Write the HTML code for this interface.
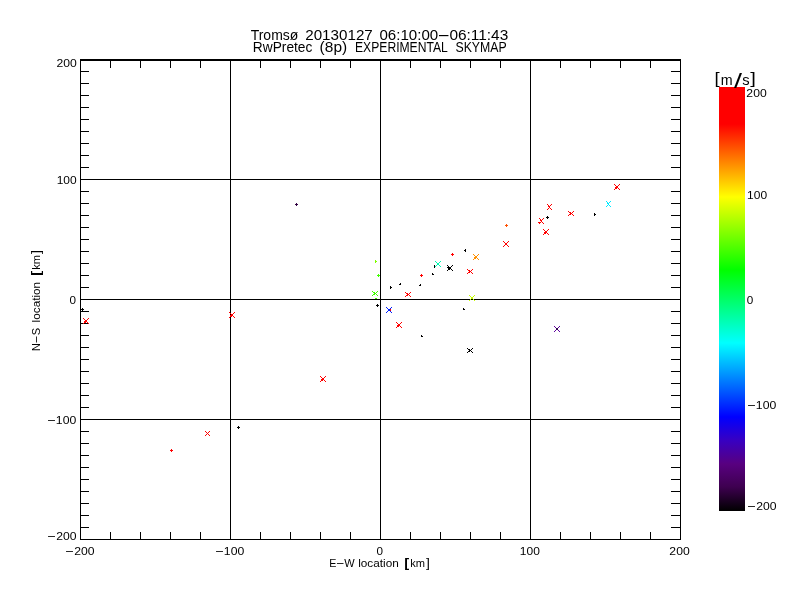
<!DOCTYPE html>
<html lang="en"><head><meta charset="utf-8"><title>Tromsø 20130127 06:10:00-06:11:43 RwPretec (8p) EXPERIMENTAL SKYMAP</title>
<style>html,body{margin:0;padding:0;background:#fff;}body{width:800px;height:600px;overflow:hidden;}svg{display:block;}text{font-family:"Liberation Sans",sans-serif;fill:#000;}</style></head><body>
<svg width="800" height="600" viewBox="0 0 800 600">
<rect width="800" height="600" fill="#fff"/>
<defs><linearGradient id="cb" x1="0" y1="0" x2="0" y2="1">
<stop offset="0.0000" stop-color="rgb(255,0,0)"/>
<stop offset="0.0873" stop-color="rgb(255,0,0)"/>
<stop offset="0.2594" stop-color="rgb(255,255,0)"/>
<stop offset="0.4316" stop-color="rgb(0,255,0)"/>
<stop offset="0.6038" stop-color="rgb(0,255,255)"/>
<stop offset="0.7783" stop-color="rgb(0,0,255)"/>
<stop offset="0.8325" stop-color="rgb(55,0,195)"/>
<stop offset="0.8890" stop-color="rgb(88,0,128)"/>
<stop offset="0.9430" stop-color="rgb(62,0,80)"/>
<stop offset="1.0000" stop-color="rgb(0,0,0)"/>
</linearGradient></defs>
<g fill="#000" shape-rendering="crispEdges">
<rect x="80" y="59" width="601" height="2"/>
<rect x="80" y="539" width="601" height="1"/>
<rect x="80" y="59" width="1" height="481"/>
<rect x="680" y="59" width="1" height="481"/>
<rect x="230" y="59" width="1" height="481"/>
<rect x="380" y="59" width="1" height="481"/>
<rect x="530" y="59" width="1" height="481"/>
<rect x="80" y="179" width="601" height="1"/>
<rect x="80" y="299" width="601" height="1"/>
<rect x="80" y="419" width="601" height="1"/>
<rect x="110" y="60" width="1" height="8"/>
<rect x="110" y="532" width="1" height="8"/>
<rect x="140" y="60" width="1" height="8"/>
<rect x="140" y="532" width="1" height="8"/>
<rect x="170" y="60" width="1" height="8"/>
<rect x="170" y="532" width="1" height="8"/>
<rect x="200" y="60" width="1" height="8"/>
<rect x="200" y="532" width="1" height="8"/>
<rect x="260" y="60" width="1" height="8"/>
<rect x="260" y="532" width="1" height="8"/>
<rect x="290" y="60" width="1" height="8"/>
<rect x="290" y="532" width="1" height="8"/>
<rect x="320" y="60" width="1" height="8"/>
<rect x="320" y="532" width="1" height="8"/>
<rect x="350" y="60" width="1" height="8"/>
<rect x="350" y="532" width="1" height="8"/>
<rect x="410" y="60" width="1" height="8"/>
<rect x="410" y="532" width="1" height="8"/>
<rect x="440" y="60" width="1" height="8"/>
<rect x="440" y="532" width="1" height="8"/>
<rect x="470" y="60" width="1" height="8"/>
<rect x="470" y="532" width="1" height="8"/>
<rect x="500" y="60" width="1" height="8"/>
<rect x="500" y="532" width="1" height="8"/>
<rect x="560" y="60" width="1" height="8"/>
<rect x="560" y="532" width="1" height="8"/>
<rect x="590" y="60" width="1" height="8"/>
<rect x="590" y="532" width="1" height="8"/>
<rect x="620" y="60" width="1" height="8"/>
<rect x="620" y="532" width="1" height="8"/>
<rect x="650" y="60" width="1" height="8"/>
<rect x="650" y="532" width="1" height="8"/>
<rect x="80" y="71" width="9" height="1"/>
<rect x="671" y="71" width="10" height="1"/>
<rect x="80" y="83" width="9" height="1"/>
<rect x="671" y="83" width="10" height="1"/>
<rect x="80" y="95" width="9" height="1"/>
<rect x="671" y="95" width="10" height="1"/>
<rect x="80" y="107" width="9" height="1"/>
<rect x="671" y="107" width="10" height="1"/>
<rect x="80" y="119" width="9" height="1"/>
<rect x="671" y="119" width="10" height="1"/>
<rect x="80" y="131" width="9" height="1"/>
<rect x="671" y="131" width="10" height="1"/>
<rect x="80" y="143" width="9" height="1"/>
<rect x="671" y="143" width="10" height="1"/>
<rect x="80" y="155" width="9" height="1"/>
<rect x="671" y="155" width="10" height="1"/>
<rect x="80" y="167" width="9" height="1"/>
<rect x="671" y="167" width="10" height="1"/>
<rect x="80" y="191" width="9" height="1"/>
<rect x="671" y="191" width="10" height="1"/>
<rect x="80" y="203" width="9" height="1"/>
<rect x="671" y="203" width="10" height="1"/>
<rect x="80" y="215" width="9" height="1"/>
<rect x="671" y="215" width="10" height="1"/>
<rect x="80" y="227" width="9" height="1"/>
<rect x="671" y="227" width="10" height="1"/>
<rect x="80" y="239" width="9" height="1"/>
<rect x="671" y="239" width="10" height="1"/>
<rect x="80" y="251" width="9" height="1"/>
<rect x="671" y="251" width="10" height="1"/>
<rect x="80" y="263" width="9" height="1"/>
<rect x="671" y="263" width="10" height="1"/>
<rect x="80" y="275" width="9" height="1"/>
<rect x="671" y="275" width="10" height="1"/>
<rect x="80" y="287" width="9" height="1"/>
<rect x="671" y="287" width="10" height="1"/>
<rect x="80" y="311" width="9" height="1"/>
<rect x="671" y="311" width="10" height="1"/>
<rect x="80" y="323" width="9" height="1"/>
<rect x="671" y="323" width="10" height="1"/>
<rect x="80" y="335" width="9" height="1"/>
<rect x="671" y="335" width="10" height="1"/>
<rect x="80" y="347" width="9" height="1"/>
<rect x="671" y="347" width="10" height="1"/>
<rect x="80" y="359" width="9" height="1"/>
<rect x="671" y="359" width="10" height="1"/>
<rect x="80" y="371" width="9" height="1"/>
<rect x="671" y="371" width="10" height="1"/>
<rect x="80" y="383" width="9" height="1"/>
<rect x="671" y="383" width="10" height="1"/>
<rect x="80" y="395" width="9" height="1"/>
<rect x="671" y="395" width="10" height="1"/>
<rect x="80" y="407" width="9" height="1"/>
<rect x="671" y="407" width="10" height="1"/>
<rect x="80" y="431" width="9" height="1"/>
<rect x="671" y="431" width="10" height="1"/>
<rect x="80" y="443" width="9" height="1"/>
<rect x="671" y="443" width="10" height="1"/>
<rect x="80" y="455" width="9" height="1"/>
<rect x="671" y="455" width="10" height="1"/>
<rect x="80" y="467" width="9" height="1"/>
<rect x="671" y="467" width="10" height="1"/>
<rect x="80" y="479" width="9" height="1"/>
<rect x="671" y="479" width="10" height="1"/>
<rect x="80" y="491" width="9" height="1"/>
<rect x="671" y="491" width="10" height="1"/>
<rect x="80" y="503" width="9" height="1"/>
<rect x="671" y="503" width="10" height="1"/>
<rect x="80" y="515" width="9" height="1"/>
<rect x="671" y="515" width="10" height="1"/>
<rect x="80" y="527" width="9" height="1"/>
<rect x="671" y="527" width="10" height="1"/>
</g>
<rect x="719" y="87" width="26" height="424" fill="url(#cb)" shape-rendering="crispEdges"/>
<g shape-rendering="crispEdges">
<path fill="#300040" d="M296 203h1v1h-1zM295 204h1v1h-1zM296 204h1v1h-1zM297 204h1v1h-1zM296 205h1v1h-1z"/>
<path fill="#000" d="M82 308h1v1h-1zM81 309h1v1h-1zM82 309h1v1h-1zM83 309h1v1h-1zM82 310h1v1h-1z"/>
<path fill="#f00" d="M171 449h1v1h-1zM170 450h1v1h-1zM171 450h1v1h-1zM172 450h1v1h-1zM171 451h1v1h-1z"/>
<path fill="#000" d="M238 426h1v1h-1zM237 427h1v1h-1zM238 427h1v1h-1zM239 427h1v1h-1zM238 428h1v1h-1z"/>
<path fill="#80ff00" d="M375 260h1v1h-1zM375 261h1v1h-1zM375 262h1v1h-1zM376 261h1v1h-1z"/>
<path fill="#40ff00" d="M378 274h1v1h-1zM377 275h1v1h-1zM378 275h1v1h-1zM379 275h1v1h-1zM378 276h1v1h-1z"/>
<path fill="#40ff00" d="M375 298h1v1h-1zM376 298h1v1h-1z"/>
<path fill="#000" d="M377 304h1v1h-1zM376 305h1v1h-1zM377 305h1v1h-1zM378 305h1v1h-1zM377 306h1v1h-1z"/>
<path fill="#000" d="M390 286h1v1h-1zM390 287h1v1h-1zM390 288h1v1h-1zM391 287h1v1h-1z"/>
<path fill="#000" d="M400 283h1v1h-1zM399 284h1v1h-1zM400 284h1v1h-1z"/>
<path fill="#f00" d="M421 274h1v1h-1zM420 275h1v1h-1zM421 275h1v1h-1zM422 275h1v1h-1zM421 276h1v1h-1z"/>
<path fill="#000" d="M420 284h1v1h-1zM419 285h1v1h-1zM420 285h1v1h-1z"/>
<path fill="#000" d="M432 273h1v1h-1zM432 274h1v1h-1zM433 274h1v1h-1z"/>
<path fill="#000" d="M434 265h1v1h-1zM434 266h1v1h-1zM434 267h1v1h-1z"/>
<path fill="#f00" d="M452 253h1v1h-1zM451 254h1v1h-1zM452 254h1v1h-1zM453 254h1v1h-1zM452 255h1v1h-1z"/>
<path fill="#000" d="M465 249h1v1h-1zM465 250h1v1h-1zM465 251h1v1h-1zM464 250h1v1h-1z"/>
<path fill="#000" d="M448 266h1v1h-1zM447 267h1v1h-1zM448 267h1v1h-1zM449 267h1v1h-1zM448 268h1v1h-1z"/>
<path fill="#ff5000" d="M506 224h1v1h-1zM505 225h1v1h-1zM506 225h1v1h-1zM507 225h1v1h-1zM506 226h1v1h-1z"/>
<path fill="#000" d="M547 216h1v1h-1zM546 217h1v1h-1zM547 217h1v1h-1zM548 217h1v1h-1zM547 218h1v1h-1z"/>
<path fill="#000" d="M594 213h1v1h-1zM594 214h1v1h-1zM594 215h1v1h-1zM595 214h1v1h-1z"/>
<path fill="#000" d="M463 308h1v1h-1zM463 309h1v1h-1zM464 309h1v1h-1z"/>
<path fill="#000" d="M421 335h1v1h-1zM421 336h1v1h-1zM422 336h1v1h-1z"/>
<path fill="#f00" d="M538 222h1v1h-1zM539 222h1v1h-1zM540 222h1v1h-1zM539 223h1v1h-1z"/>
<path fill="#f00" d="M83 318h1v1h-1zM88 318h1v1h-1zM84 319h1v1h-1zM87 319h1v1h-1zM85 320h1v1h-1zM86 320h1v1h-1zM85 321h1v1h-1zM86 321h1v1h-1zM84 322h1v1h-1zM87 322h1v1h-1zM83 323h1v1h-1zM88 323h1v1h-1z"/>
<path fill="#f00" d="M85 320h1v1h-1zM86 320h1v1h-1zM85 321h1v1h-1zM86 321h1v1h-1zM84 321h1v1h-1zM85 322h1v1h-1z"/>
<path fill="#f00" d="M229 312h1v1h-1zM234 312h1v1h-1zM230 313h1v1h-1zM233 313h1v1h-1zM231 314h1v1h-1zM232 314h1v1h-1zM231 315h1v1h-1zM232 315h1v1h-1zM230 316h1v1h-1zM233 316h1v1h-1zM229 317h1v1h-1zM234 317h1v1h-1z"/>
<path fill="#f00" d="M231 314h1v1h-1zM232 314h1v1h-1zM231 315h1v1h-1zM232 315h1v1h-1zM230 315h1v1h-1zM231 316h1v1h-1z"/>
<path fill="#f00" d="M320 376h1v1h-1zM325 376h1v1h-1zM321 377h1v1h-1zM324 377h1v1h-1zM322 378h1v1h-1zM323 378h1v1h-1zM322 379h1v1h-1zM323 379h1v1h-1zM321 380h1v1h-1zM324 380h1v1h-1zM320 381h1v1h-1zM325 381h1v1h-1z"/>
<path fill="#f00" d="M322 378h1v1h-1zM323 378h1v1h-1zM322 379h1v1h-1zM323 379h1v1h-1zM321 379h1v1h-1zM322 380h1v1h-1z"/>
<path fill="#f00" d="M205 431h1v1h-1zM209 431h1v1h-1zM206 432h1v1h-1zM208 432h1v1h-1zM207 433h1v1h-1zM206 434h1v1h-1zM208 434h1v1h-1zM205 435h1v1h-1zM209 435h1v1h-1z"/>
<path fill="#40ff00" d="M372 291h1v1h-1zM377 291h1v1h-1zM373 292h1v1h-1zM374 292h1v1h-1zM376 292h1v1h-1zM374 293h1v1h-1zM375 293h1v1h-1zM373 294h1v1h-1zM374 294h1v1h-1zM376 294h1v1h-1zM372 295h1v1h-1zM377 295h1v1h-1z"/>
<path fill="#0020ff" d="M386 307h1v1h-1zM391 307h1v1h-1zM387 308h1v1h-1zM390 308h1v1h-1zM388 309h1v1h-1zM389 309h1v1h-1zM388 310h1v1h-1zM389 310h1v1h-1zM387 311h1v1h-1zM390 311h1v1h-1zM386 312h1v1h-1zM391 312h1v1h-1z"/>
<path fill="#f00" d="M396 322h1v1h-1zM401 322h1v1h-1zM397 323h1v1h-1zM400 323h1v1h-1zM398 324h1v1h-1zM399 324h1v1h-1zM398 325h1v1h-1zM399 325h1v1h-1zM397 326h1v1h-1zM400 326h1v1h-1zM396 327h1v1h-1zM401 327h1v1h-1z"/>
<path fill="#f00" d="M398 324h1v1h-1zM399 324h1v1h-1zM398 325h1v1h-1zM399 325h1v1h-1zM397 325h1v1h-1zM398 326h1v1h-1z"/>
<path fill="#f00" d="M405 292h1v1h-1zM410 292h1v1h-1zM406 293h1v1h-1zM407 293h1v1h-1zM409 293h1v1h-1zM407 294h1v1h-1zM408 294h1v1h-1zM406 295h1v1h-1zM407 295h1v1h-1zM409 295h1v1h-1zM405 296h1v1h-1zM410 296h1v1h-1z"/>
<path fill="#00f8b0" d="M435 261h1v1h-1zM440 261h1v1h-1zM436 262h1v1h-1zM439 262h1v1h-1zM437 263h1v1h-1zM438 263h1v1h-1zM437 264h1v1h-1zM438 264h1v1h-1zM436 265h1v1h-1zM439 265h1v1h-1zM435 266h1v1h-1zM440 266h1v1h-1z"/>
<path fill="#000" d="M447 265h1v1h-1zM452 265h1v1h-1zM448 266h1v1h-1zM451 266h1v1h-1zM449 267h1v1h-1zM450 267h1v1h-1zM449 268h1v1h-1zM450 268h1v1h-1zM448 269h1v1h-1zM451 269h1v1h-1zM447 270h1v1h-1zM452 270h1v1h-1z"/>
<path fill="#000" d="M449 267h1v1h-1zM450 267h1v1h-1zM449 268h1v1h-1zM450 268h1v1h-1zM448 268h1v1h-1zM449 269h1v1h-1z"/>
<path fill="#ff9000" d="M473 254h1v1h-1zM478 254h1v1h-1zM474 255h1v1h-1zM477 255h1v1h-1zM475 256h1v1h-1zM476 256h1v1h-1zM475 257h1v1h-1zM476 257h1v1h-1zM474 258h1v1h-1zM477 258h1v1h-1zM473 259h1v1h-1zM478 259h1v1h-1z"/>
<path fill="#ff9000" d="M475 256h1v1h-1zM476 256h1v1h-1zM475 257h1v1h-1zM476 257h1v1h-1zM474 257h1v1h-1zM475 258h1v1h-1z"/>
<path fill="#f00" d="M467 269h1v1h-1zM472 269h1v1h-1zM468 270h1v1h-1zM469 270h1v1h-1zM471 270h1v1h-1zM469 271h1v1h-1zM470 271h1v1h-1zM468 272h1v1h-1zM469 272h1v1h-1zM471 272h1v1h-1zM467 273h1v1h-1zM472 273h1v1h-1z"/>
<path fill="#c8ff00" d="M469 295h1v1h-1zM474 295h1v1h-1zM470 296h1v1h-1zM473 296h1v1h-1zM471 297h1v1h-1zM472 297h1v1h-1zM471 298h1v1h-1zM472 298h1v1h-1zM470 299h1v1h-1zM473 299h1v1h-1zM469 300h1v1h-1zM474 300h1v1h-1z"/>
<path fill="#000" d="M467 348h1v1h-1zM472 348h1v1h-1zM468 349h1v1h-1zM469 349h1v1h-1zM471 349h1v1h-1zM469 350h1v1h-1zM470 350h1v1h-1zM468 351h1v1h-1zM469 351h1v1h-1zM471 351h1v1h-1zM467 352h1v1h-1zM472 352h1v1h-1z"/>
<path fill="#f00" d="M503 241h1v1h-1zM508 241h1v1h-1zM504 242h1v1h-1zM507 242h1v1h-1zM505 243h1v1h-1zM506 243h1v1h-1zM505 244h1v1h-1zM506 244h1v1h-1zM504 245h1v1h-1zM507 245h1v1h-1zM503 246h1v1h-1zM508 246h1v1h-1z"/>
<path fill="#f00" d="M539 218h1v1h-1zM543 218h1v1h-1zM540 219h1v1h-1zM542 219h1v1h-1zM541 220h1v1h-1zM540 220h1v1h-1zM541 221h1v1h-1zM540 222h1v1h-1zM542 222h1v1h-1zM539 223h1v1h-1zM543 223h1v1h-1z"/>
<path fill="#f00" d="M547 204h1v1h-1zM551 204h1v1h-1zM548 205h1v1h-1zM550 205h1v1h-1zM549 206h1v1h-1zM548 206h1v1h-1zM549 207h1v1h-1zM548 208h1v1h-1zM550 208h1v1h-1zM547 209h1v1h-1zM551 209h1v1h-1z"/>
<path fill="#f00" d="M543 229h1v1h-1zM548 229h1v1h-1zM544 230h1v1h-1zM547 230h1v1h-1zM545 231h1v1h-1zM546 231h1v1h-1zM545 232h1v1h-1zM546 232h1v1h-1zM544 233h1v1h-1zM547 233h1v1h-1zM543 234h1v1h-1zM548 234h1v1h-1z"/>
<path fill="#f00" d="M545 231h1v1h-1zM546 231h1v1h-1zM545 232h1v1h-1zM546 232h1v1h-1zM544 232h1v1h-1zM545 233h1v1h-1z"/>
<path fill="#f00" d="M568 211h1v1h-1zM573 211h1v1h-1zM569 212h1v1h-1zM570 212h1v1h-1zM572 212h1v1h-1zM570 213h1v1h-1zM571 213h1v1h-1zM569 214h1v1h-1zM570 214h1v1h-1zM572 214h1v1h-1zM568 215h1v1h-1zM573 215h1v1h-1z"/>
<path fill="#00ebff" d="M606 201h1v1h-1zM610 201h1v1h-1zM607 202h1v1h-1zM609 202h1v1h-1zM608 203h1v1h-1zM607 203h1v1h-1zM608 204h1v1h-1zM607 205h1v1h-1zM609 205h1v1h-1zM606 206h1v1h-1zM610 206h1v1h-1z"/>
<path fill="#f00" d="M614 184h1v1h-1zM619 184h1v1h-1zM615 185h1v1h-1zM618 185h1v1h-1zM616 186h1v1h-1zM617 186h1v1h-1zM616 187h1v1h-1zM617 187h1v1h-1zM615 188h1v1h-1zM618 188h1v1h-1zM614 189h1v1h-1zM619 189h1v1h-1z"/>
<path fill="#f00" d="M616 186h1v1h-1zM617 186h1v1h-1zM616 187h1v1h-1zM617 187h1v1h-1zM615 187h1v1h-1zM616 188h1v1h-1z"/>
<path fill="#6000a0" d="M554 326h1v1h-1zM559 326h1v1h-1zM555 327h1v1h-1zM558 327h1v1h-1zM556 328h1v1h-1zM557 328h1v1h-1zM556 329h1v1h-1zM557 329h1v1h-1zM555 330h1v1h-1zM558 330h1v1h-1zM554 331h1v1h-1zM559 331h1v1h-1z"/>
<path fill="#300050" d="M556 328h1v1h-1zM557 328h1v1h-1zM556 329h1v1h-1zM557 329h1v1h-1z"/>
<path fill="#f00" d="M390 309h1v1h-1zM390 310h1v1h-1z"/>
</g>
<text y="40" font-size="14" lengthAdjust="spacingAndGlyphs"><tspan x="250.69" textLength="47.63" lengthAdjust="spacingAndGlyphs">Tromsø</tspan> <tspan x="305.24" textLength="67.53" lengthAdjust="spacingAndGlyphs">20130127</tspan> <tspan x="379.41" textLength="58.78" lengthAdjust="spacingAndGlyphs">06:10:00</tspan><tspan x="437.28" textLength="12.95" lengthAdjust="spacingAndGlyphs">-</tspan><tspan x="449.40" textLength="58.88" lengthAdjust="spacingAndGlyphs">06:11:43</tspan></text>
<text y="52" font-size="14" lengthAdjust="spacingAndGlyphs"><tspan x="252.87" textLength="59.49" lengthAdjust="spacingAndGlyphs">RwPretec</tspan> <tspan x="319.64" textLength="27.52" lengthAdjust="spacingAndGlyphs">(8p)</tspan> <tspan x="355.01" textLength="92.39" lengthAdjust="spacingAndGlyphs">EXPERIMENTAL</tspan> <tspan x="455.44" textLength="51.21" lengthAdjust="spacingAndGlyphs">SKYMAP</tspan></text>
<text y="555" font-size="11.5" lengthAdjust="spacingAndGlyphs"><tspan x="64.73" dy="-1" textLength="9.54" lengthAdjust="spacingAndGlyphs">-</tspan><tspan x="74.19" dy="1" textLength="20.29" lengthAdjust="spacingAndGlyphs">200</tspan></text>
<text y="555" font-size="11.5" lengthAdjust="spacingAndGlyphs"><tspan x="214.73" dy="-1" textLength="9.54" lengthAdjust="spacingAndGlyphs">-</tspan><tspan x="223.87" dy="1" textLength="20.41" lengthAdjust="spacingAndGlyphs">100</tspan></text>
<text y="555" font-size="11.5" lengthAdjust="spacingAndGlyphs"><tspan x="376.54" textLength="6.51" lengthAdjust="spacingAndGlyphs">0</tspan></text>
<text y="555" font-size="11.5" lengthAdjust="spacingAndGlyphs"><tspan x="519.89" textLength="19.98" lengthAdjust="spacingAndGlyphs">100</tspan></text>
<text y="555" font-size="11.5" lengthAdjust="spacingAndGlyphs"><tspan x="669.39" textLength="20.29" lengthAdjust="spacingAndGlyphs">200</tspan></text>
<text y="67" font-size="11.5" lengthAdjust="spacingAndGlyphs"><tspan x="56.59" textLength="20.29" lengthAdjust="spacingAndGlyphs">200</tspan></text>
<text y="184" font-size="11.5" lengthAdjust="spacingAndGlyphs"><tspan x="56.69" textLength="19.98" lengthAdjust="spacingAndGlyphs">100</tspan></text>
<text y="304" font-size="11.5" lengthAdjust="spacingAndGlyphs"><tspan x="69.54" textLength="6.51" lengthAdjust="spacingAndGlyphs">0</tspan></text>
<text y="424" font-size="11.5" lengthAdjust="spacingAndGlyphs"><tspan x="46.73" dy="-1" textLength="9.54" lengthAdjust="spacingAndGlyphs">-</tspan><tspan x="55.87" dy="1" textLength="20.41" lengthAdjust="spacingAndGlyphs">100</tspan></text>
<text y="540" font-size="11.5" lengthAdjust="spacingAndGlyphs"><tspan x="46.73" dy="-1" textLength="9.54" lengthAdjust="spacingAndGlyphs">-</tspan><tspan x="56.19" dy="1" textLength="20.29" lengthAdjust="spacingAndGlyphs">200</tspan></text>
<text y="97" font-size="11.5" lengthAdjust="spacingAndGlyphs"><tspan x="746.39" textLength="20.29" lengthAdjust="spacingAndGlyphs">200</tspan></text>
<text y="199" font-size="11.5" lengthAdjust="spacingAndGlyphs"><tspan x="747.09" textLength="19.98" lengthAdjust="spacingAndGlyphs">100</tspan></text>
<text y="304" font-size="11.5" lengthAdjust="spacingAndGlyphs"><tspan x="746.84" textLength="6.51" lengthAdjust="spacingAndGlyphs">0</tspan></text>
<text y="409" font-size="11.5" lengthAdjust="spacingAndGlyphs"><tspan x="746.73" dy="-1" textLength="9.54" lengthAdjust="spacingAndGlyphs">-</tspan><tspan x="755.87" dy="1" textLength="20.41" lengthAdjust="spacingAndGlyphs">100</tspan></text>
<text y="510" font-size="11.5" lengthAdjust="spacingAndGlyphs"><tspan x="746.73" dy="-1" textLength="9.54" lengthAdjust="spacingAndGlyphs">-</tspan><tspan x="756.19" dy="1" textLength="20.29" lengthAdjust="spacingAndGlyphs">200</tspan></text>
<text y="567" font-size="11.5" lengthAdjust="spacingAndGlyphs"><tspan x="329.32" textLength="7.14" lengthAdjust="spacingAndGlyphs">E</tspan><tspan x="335.80" dy="-1" textLength="8.99" lengthAdjust="spacingAndGlyphs">-</tspan><tspan x="344.25" dy="1" textLength="10.39" lengthAdjust="spacingAndGlyphs">W</tspan> <tspan x="358.21" textLength="40.56" lengthAdjust="spacingAndGlyphs">location</tspan> <tspan x="404.17" dy="0.4" font-size="13.5" font-weight="bold" textLength="4.91" lengthAdjust="spacingAndGlyphs">[</tspan><tspan x="410.25" dy="-0.4" textLength="14.78" lengthAdjust="spacingAndGlyphs">km</tspan><tspan x="425.99" dy="0.4" font-size="13.5" textLength="3.91" lengthAdjust="spacingAndGlyphs">]</tspan></text>
<text transform="translate(40,350) rotate(-90)" y="0" font-size="11.5" lengthAdjust="spacingAndGlyphs"><tspan x="-0.88" textLength="7.75" lengthAdjust="spacingAndGlyphs">N</tspan><tspan x="6.38" dy="-1" textLength="8.45" lengthAdjust="spacingAndGlyphs">-</tspan><tspan x="14.70" dy="1" textLength="7.41" lengthAdjust="spacingAndGlyphs">S</tspan> <tspan x="27.61" textLength="40.56" lengthAdjust="spacingAndGlyphs">location</tspan> <tspan x="74.17" dy="0.4" font-size="13.5" font-weight="bold" textLength="4.91" lengthAdjust="spacingAndGlyphs">[</tspan><tspan x="80.25" dy="-0.4" textLength="14.78" lengthAdjust="spacingAndGlyphs">km</tspan><tspan x="95.99" dy="0.4" font-size="13.5" textLength="3.91" lengthAdjust="spacingAndGlyphs">]</tspan></text>
<text y="85" font-size="14" lengthAdjust="spacingAndGlyphs"><tspan x="714.48" dy="-0.6" font-size="16" textLength="5.17" lengthAdjust="spacingAndGlyphs">[</tspan><tspan x="720.85" dy="0.6" textLength="11.89" lengthAdjust="spacingAndGlyphs">m</tspan><tspan x="734.00" dy="2.6" font-size="20" textLength="8.00" lengthAdjust="spacingAndGlyphs">/</tspan><tspan x="742.39" dy="-2.6" textLength="7.34" lengthAdjust="spacingAndGlyphs">s</tspan><tspan x="750.34" dy="-0.6" font-size="16" textLength="5.59" lengthAdjust="spacingAndGlyphs">]</tspan></text>
</svg></body></html>
